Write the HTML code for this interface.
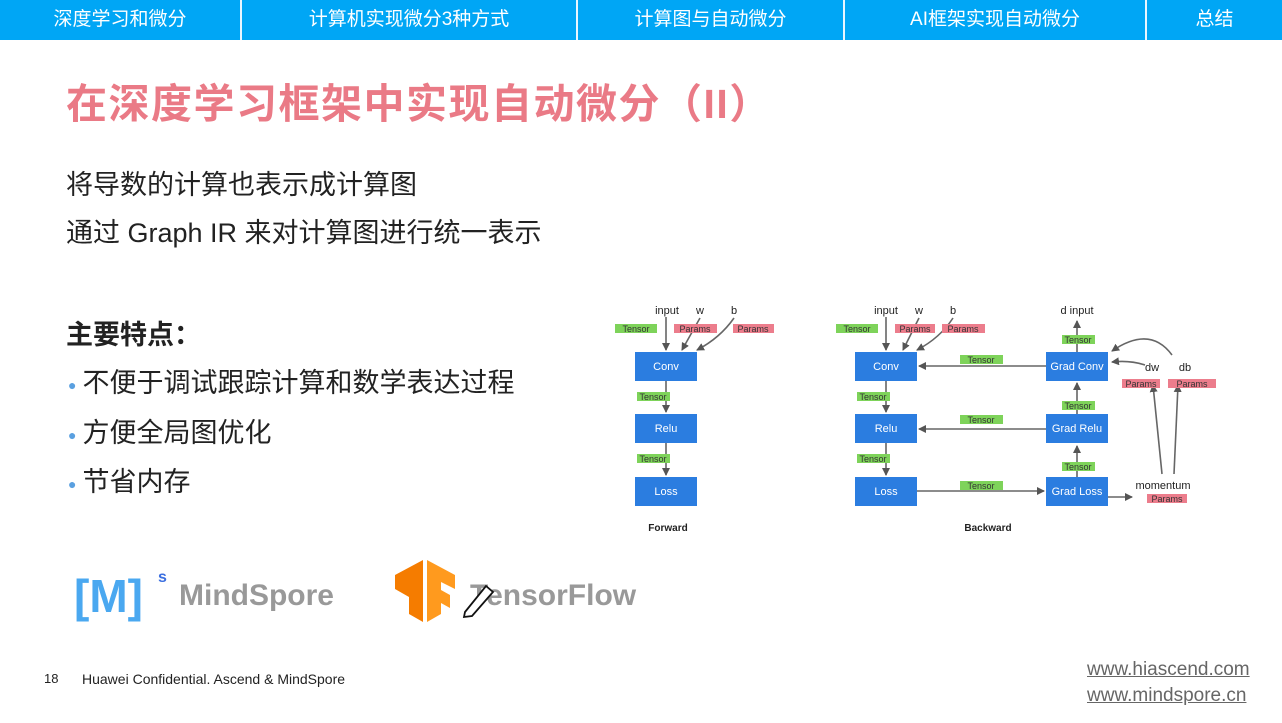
<!DOCTYPE html>
<html><head><meta charset="utf-8"><style>
body{margin:0;width:1282px;height:723px;overflow:hidden;background:#fff;font-family:"Liberation Sans","Noto Sans CJK SC",sans-serif;position:relative}
.nav{position:absolute;top:0;left:0;width:1282px;height:40px;background:#00a6f5}
.nav div{position:absolute;top:0;height:40px;line-height:40px;color:#fff;font-size:19px;text-align:center;border-right:2px solid #e8f6ff}
.t{position:absolute;white-space:nowrap;color:#222}
.b{color:#5aa0e0;font-size:14px;vertical-align:middle;margin-right:8px;position:relative;left:2px}
</style></head><body>
<div class="nav">
<div style="left:0;width:240px">深度学习和微分</div>
<div style="left:242px;width:334px">计算机实现微分3种方式</div>
<div style="left:578px;width:265px">计算图与自动微分</div>
<div style="left:845px;width:300px">AI框架实现自动微分</div>
<div style="left:1147px;width:135px;border:none">总结</div>
</div>
<div class="t" style="left:66px;top:70px;font-size:41px;font-weight:bold;color:#ea7a86;letter-spacing:1.5px">在深度学习框架中实现自动微分（II）</div>
<div class="t" style="left:66px;top:163px;font-size:27px">将导数的计算也表示成计算图</div>
<div class="t" style="left:66px;top:211px;font-size:27px">通过 Graph IR 来对计算图进行统一表示</div>
<div class="t" style="left:66px;top:313px;font-size:27px;font-weight:bold">主要特点：</div>
<div class="t" style="left:66px;top:361px;font-size:27px"><span class="b">●</span>不便于调试跟踪计算和数学表达过程</div>
<div class="t" style="left:66px;top:411px;font-size:27px"><span class="b">●</span>方便全局图优化</div>
<div class="t" style="left:66px;top:460px;font-size:27px"><span class="b">●</span>节省内存</div>

<svg style="position:absolute;left:0;top:0" width="1282" height="723" font-family="Liberation Sans, sans-serif">
<defs><marker id="a" markerWidth="8" markerHeight="8" refX="7" refY="4" orient="auto" markerUnits="userSpaceOnUse"><path d="M0,0L8,4L0,8z" fill="#555"/></marker></defs>
<g stroke="#666" stroke-width="1.6" fill="none" marker-end="url(#a)">
<line x1="666" y1="317" x2="666" y2="350"/>
<path d="M700,318 L682,350"/>
<path d="M734,318 Q720,338 697,350"/>
<line x1="666" y1="381" x2="666" y2="412"/>
<line x1="666" y1="443" x2="666" y2="475"/>
<line x1="886" y1="317" x2="886" y2="350"/>
<path d="M919,318 L903,350"/>
<path d="M953,318 Q940,338 917,350"/>
<line x1="886" y1="381" x2="886" y2="412"/>
<line x1="886" y1="443" x2="886" y2="475"/>
<line x1="1046" y1="366" x2="919" y2="366"/>
<line x1="1046" y1="429" x2="919" y2="429"/>
<line x1="917" y1="491" x2="1044" y2="491"/>
<line x1="1077" y1="352" x2="1077" y2="321"/>
<line x1="1077" y1="414" x2="1077" y2="383"/>
<line x1="1077" y1="477" x2="1077" y2="446"/>
<line x1="1108" y1="497" x2="1132" y2="497"/>
<path d="M1145,365 Q1130,360 1112,362"/>
<path d="M1172,355 Q1150,325 1112,351"/>
<path d="M1162,474 L1153,385"/>
<path d="M1174,474 L1178,385"/>
</g>
<g fill="#2b7de0">
<rect x="635" y="352" width="62" height="29"/><rect x="635" y="414" width="62" height="29"/><rect x="635" y="477" width="62" height="29"/>
<rect x="855" y="352" width="62" height="29"/><rect x="855" y="414" width="62" height="29"/><rect x="855" y="477" width="62" height="29"/>
<rect x="1046" y="352" width="62" height="29"/><rect x="1046" y="414" width="62" height="29"/><rect x="1046" y="477" width="62" height="29"/>
</g>
<g fill="#fff" font-size="11" text-anchor="middle">
<text x="666" y="370">Conv</text><text x="666" y="432">Relu</text><text x="666" y="495">Loss</text>
<text x="886" y="370">Conv</text><text x="886" y="432">Relu</text><text x="886" y="495">Loss</text>
<text x="1077" y="370">Grad Conv</text><text x="1077" y="432">Grad Relu</text><text x="1077" y="495">Grad Loss</text>
</g>
<g fill="#222" font-size="11" text-anchor="middle">
<text x="667" y="314">input</text><text x="700" y="314">w</text><text x="734" y="314">b</text>
<text x="886" y="314">input</text><text x="919" y="314">w</text><text x="953" y="314">b</text>
<text x="1077" y="314">d input</text><text x="1152" y="371">dw</text><text x="1185" y="371">db</text>
<text x="1163" y="489">momentum</text>
<text x="668" y="531" font-weight="bold" font-size="10">Forward</text>
<text x="988" y="531" font-weight="bold" font-size="10">Backward</text>
</g>
<g font-size="9" text-anchor="middle" fill="#333">
<g fill="#7ed35a"><rect x="615" y="324" width="42" height="9"/><rect x="637" y="392" width="33" height="9"/><rect x="637" y="454" width="33" height="9"/>
<rect x="836" y="324" width="42" height="9"/><rect x="857" y="392" width="33" height="9"/><rect x="857" y="454" width="33" height="9"/>
<rect x="960" y="355" width="43" height="9"/><rect x="960" y="415" width="43" height="9"/><rect x="960" y="481" width="43" height="9"/>
<rect x="1062" y="335" width="33" height="9"/><rect x="1062" y="401" width="33" height="9"/><rect x="1062" y="462" width="33" height="9"/></g>
<g fill="#ec7d8c"><rect x="674" y="324" width="43" height="9"/><rect x="733" y="324" width="41" height="9"/>
<rect x="895" y="324" width="40" height="9"/><rect x="942" y="324" width="43" height="9"/>
<rect x="1122" y="379" width="38" height="9"/><rect x="1168" y="379" width="48" height="9"/><rect x="1147" y="494" width="40" height="9"/></g>
<text x="636" y="332">Tensor</text><text x="653" y="400">Tensor</text><text x="653" y="462">Tensor</text>
<text x="857" y="332">Tensor</text><text x="873" y="400">Tensor</text><text x="873" y="462">Tensor</text>
<text x="981" y="363">Tensor</text><text x="981" y="423">Tensor</text><text x="981" y="489">Tensor</text>
<text x="1078" y="343">Tensor</text><text x="1078" y="409">Tensor</text><text x="1078" y="470">Tensor</text>
<text x="695" y="332">Params</text><text x="753" y="332">Params</text><text x="915" y="332">Params</text><text x="963" y="332">Params</text>
<text x="1141" y="387">Params</text><text x="1192" y="387">Params</text><text x="1167" y="502">Params</text>
</g>
<text x="74" y="612" font-size="46" font-weight="bold" fill="#4aa8f0">[M]</text>
<text x="158" y="582" font-size="16" font-weight="bold" fill="#3b6fe0">s</text>
<text x="179" y="605" font-size="30" font-weight="bold" fill="#999">MindSpore</text>
<path d="M395,575 L423,560 L423,622 L409,614 L409,597 L395,589z" fill="#f57c00"/>
<path d="M427,560 L455,575 L455,589 L441,582 L441,590 L450,595 L450,608 L441,603 L441,614 L427,622z" fill="#ff9a1e"/>
<text x="470" y="605" font-size="30" font-weight="bold" fill="#999">TensorFlow</text>
<path d="M465,612 L486,586 L493,592 L472,616 L464,617z" fill="#fff" stroke="#111" stroke-width="1.8"/>
</svg>
<div class="t" style="left:44px;top:671px;font-size:13px">18</div>
<div class="t" style="left:82px;top:671px;font-size:14px">Huawei Confidential. Ascend &amp; MindSpore</div>
<div class="t" style="left:1087px;top:659px;font-size:19px;color:#666;text-decoration:underline">www.hiascend.com</div>
<div class="t" style="left:1087px;top:685px;font-size:19px;color:#666;text-decoration:underline">www.mindspore.cn</div>
</body></html>
